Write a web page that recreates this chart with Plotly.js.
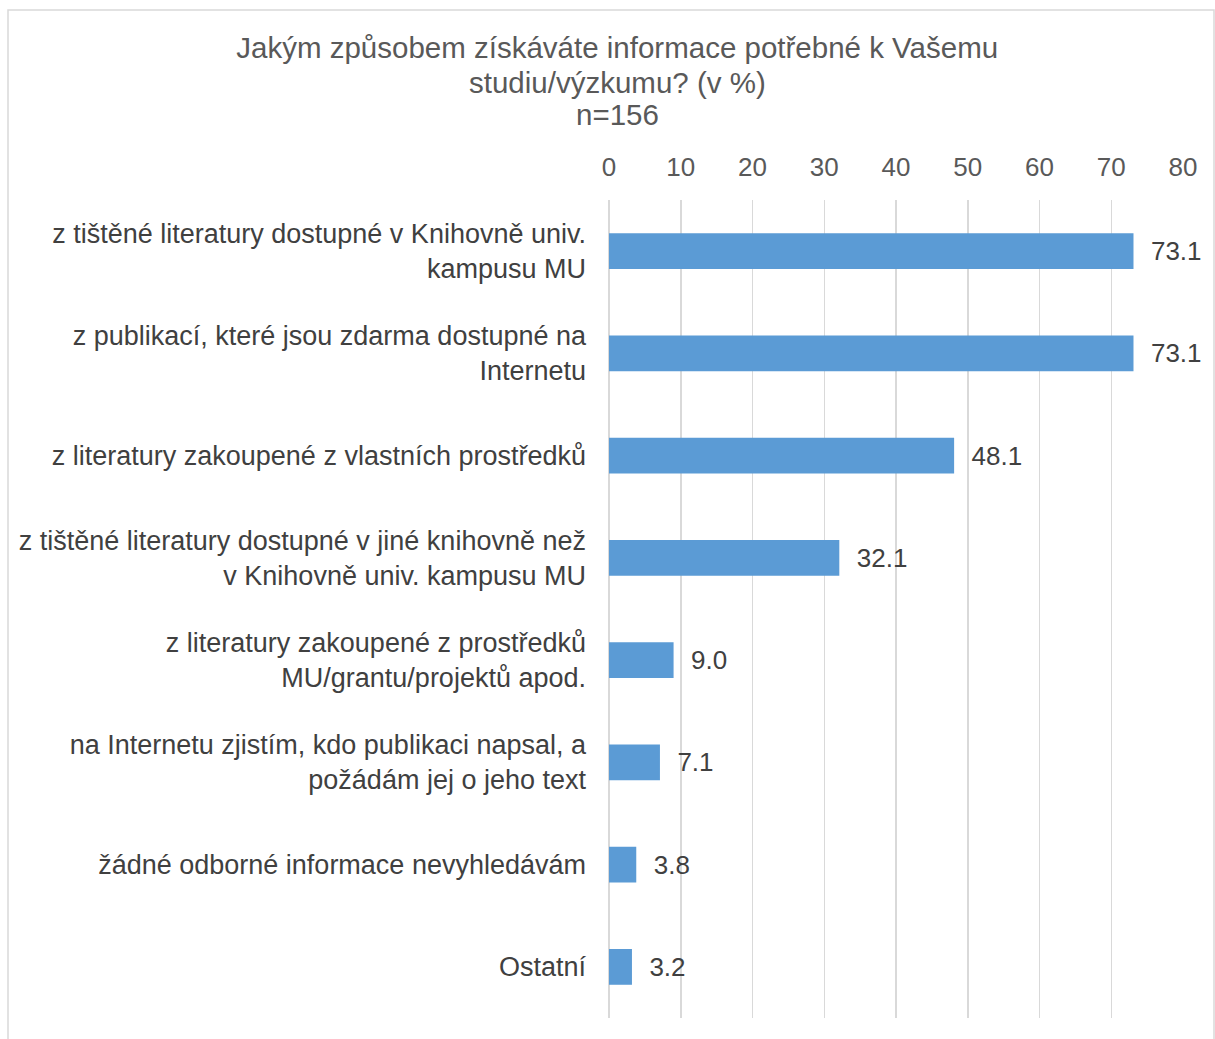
<!DOCTYPE html>
<html>
<head>
<meta charset="utf-8">
<script src="https://cdn.plot.ly/plotly-3.0.1.min.js"></script>
<style>html,body{margin:0;padding:0;background:#fff;}#chart{width:1215px;height:1039px;}</style>
</head>
<body>
<div id="chart"></div>
<script>
const categories = [
  "z tištěné literatury dostupné v Knihovně univ.<br>kampusu MU",
  "z publikací, které jsou zdarma dostupné na<br>Internetu",
  "z literatury zakoupené z vlastních prostředků",
  "z tištěné literatury dostupné v jiné knihovně než<br>v Knihovně univ. kampusu MU",
  "z literatury zakoupené z prostředků<br>MU/grantu/projektů apod.",
  "na Internetu zjistím, kdo publikaci napsal, a<br>požádám jej o jeho text",
  "žádné odborné informace nevyhledávám",
  "Ostatní"
];
const values = [73.1, 73.1, 48.1, 32.1, 9.0, 7.1, 3.8, 3.2];
const tickValues = [0, 10, 20, 30, 40, 50, 60, 70, 80];
const titleLines = ["Jakým způsobem získáváte informace potřebné k Vašemu", "studiu/výzkumu? (v %)", "n=156"];

const FONT = "Liberation Sans, Arial, sans-serif";
const TITLE_FONT = {family: FONT, size: 29.5, color: "#595959"};
const titleX = 0.508;
const titleXpaper = (617 - 609) / 574;

Plotly.newPlot("chart", [{
  type: "bar",
  orientation: "h",
  y: categories,
  x: values,
  marker: {color: "#5B9BD5"},
  texttemplate: "\u00a0\u00a0%{x:.1f}",
  textposition: "outside",
  textfont: {family: FONT, size: 26, color: "#404040"},
  cliponaxis: false,
  constraintext: "none",
  hoverinfo: "none"
}], {
  width: 1215,
  height: 1039,
  margin: {l: 609, r: 32, t: 200, b: 21},
  paper_bgcolor: "#ffffff",
  plot_bgcolor: "#ffffff",
  bargap: 0.65,
  showlegend: false,
  title: {
    text: titleLines[0],
    font: TITLE_FONT,
    x: titleX,
    xanchor: "center",
    yref: "container",
    y: 1 - 48 / 1039,
    yanchor: "middle"
  },
  annotations: [
    {text: titleLines[1], xref: "paper", yref: "paper", x: titleXpaper, y: 1 + (200 - 82) / 818,
     xanchor: "center", yanchor: "middle", showarrow: false, font: TITLE_FONT},
    {text: titleLines[2], xref: "paper", yref: "paper", x: titleXpaper, y: 1 + (200 - 115) / 818,
     xanchor: "center", yanchor: "middle", showarrow: false, font: TITLE_FONT}
  ],
  xaxis: {
    side: "top",
    range: [0, 80],
    tickvals: tickValues,
    ticktext: tickValues.map(String),
    showgrid: true,
    gridcolor: "#D9D9D9",
    gridwidth: 1.5,
    zeroline: true,
    zerolinecolor: "#D9D9D9",
    zerolinewidth: 1.5,
    showline: false,
    ticks: "",
    ticklabelstandoff: 18,
    tickfont: {family: FONT, size: 26, color: "#595959"},
    fixedrange: true
  },
  yaxis: {
    autorange: "reversed",
    showgrid: false,
    zeroline: false,
    showline: false,
    ticks: "",
    ticklabelstandoff: 22,
    tickfont: {family: FONT, size: 27, color: "#404040"},
    fixedrange: true
  },
  shapes: [{
    type: "rect",
    xref: "paper", yref: "paper",
    x0: (8 - 609) / 574, x1: (1214 - 609) / 574,
    y0: -0.1, y1: 1 + (200 - 10) / 818,
    line: {color: "#D9D9D9", width: 1.5},
    fillcolor: "rgba(0,0,0,0)",
    layer: "below"
  }]
}, {displayModeBar: false, staticPlot: true});
</script>
</body>
</html>
